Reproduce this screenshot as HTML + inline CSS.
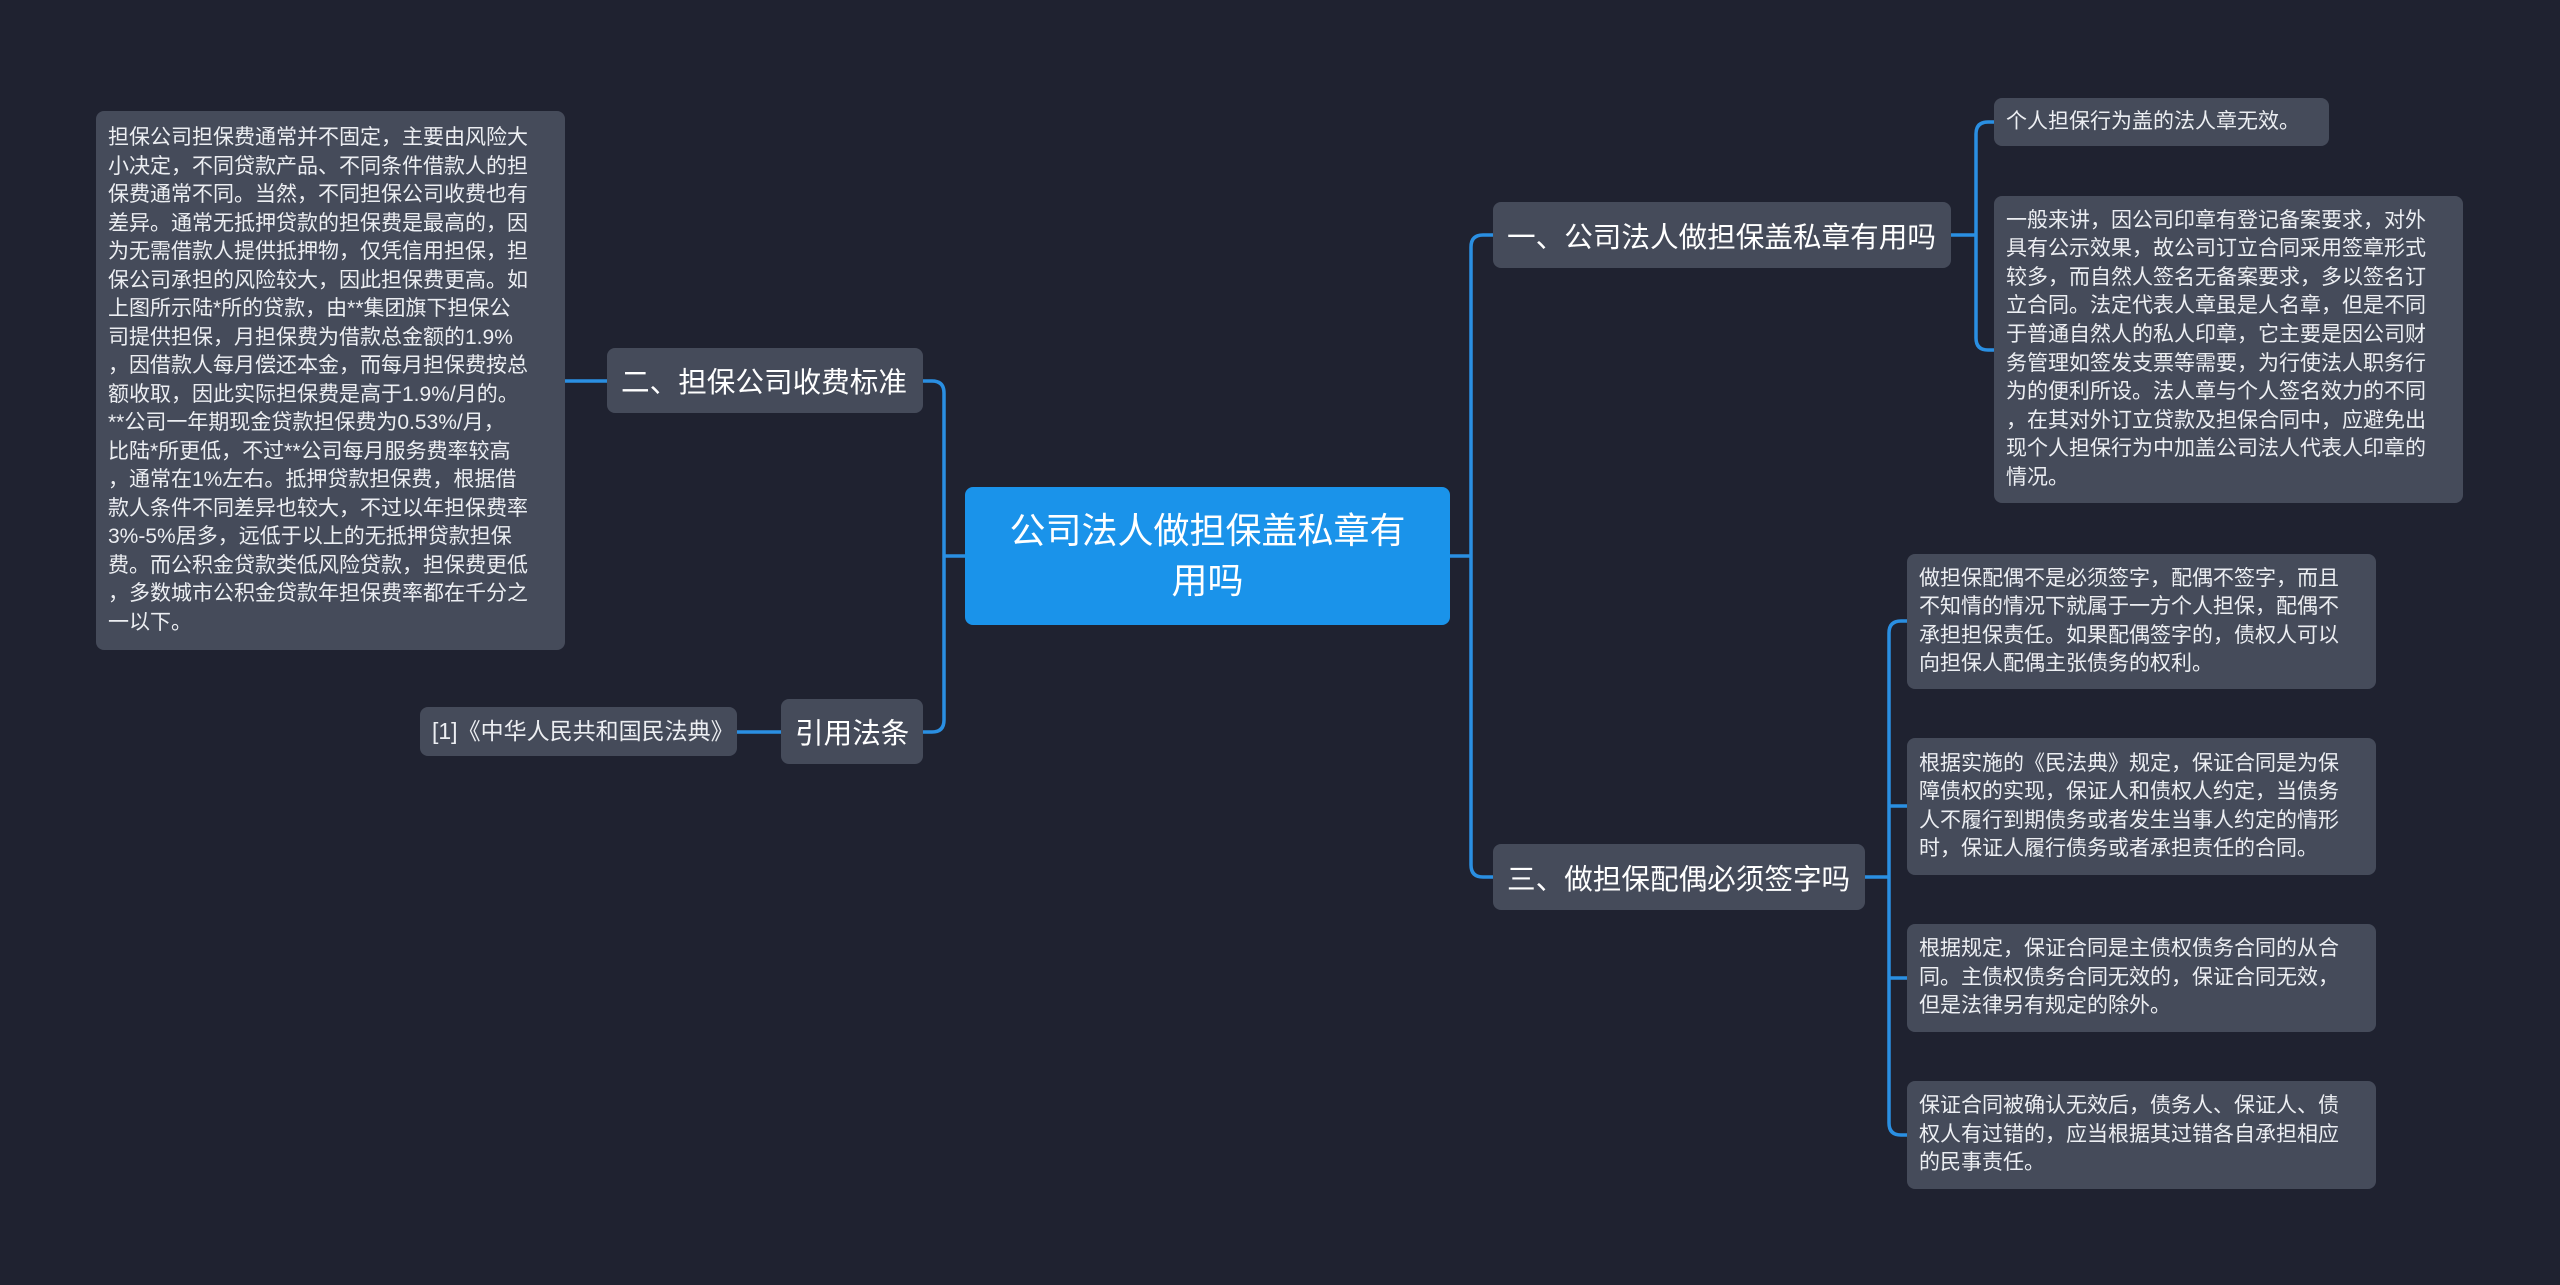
<!DOCTYPE html>
<html><head><meta charset="utf-8"><style>
html,body{margin:0;padding:0;}
body{width:2560px;height:1285px;background:#1f2230;position:relative;overflow:hidden;font-family:"Liberation Sans","Noto Sans CJK SC",sans-serif;}
.n{position:absolute;background:#454b5a;border-radius:8px;color:#fff;box-sizing:border-box;display:flex;align-items:center;}
.t{color:#eceef2;font-size:21px;line-height:28.5px;padding:0 12px;white-space:pre;}
.h{font-size:28.6px;padding:0 14px;white-space:nowrap;}
svg{position:absolute;left:0;top:0;}
</style></head><body>
<svg width="2560" height="1285" fill="none" stroke="#2a8fe2" stroke-width="3.5">
<path d="M965 556 H944"/>
<path d="M923 381 H932 Q944 381 944 393 V720 Q944 732 932 732 H923"/>
<path d="M565 381 H607"/>
<path d="M737 732 H781"/>
<path d="M1450 556 H1471"/>
<path d="M1493 235 H1483 Q1471 235 1471 247 V865 Q1471 877 1483 877 H1493"/>
<path d="M1951 235 H1976"/>
<path d="M1994 122 H1988 Q1976 122 1976 134 V338 Q1976 350 1988 350 H1994"/>
<path d="M1865 877 H1889"/>
<path d="M1907 621 H1901 Q1889 621 1889 633 V1123 Q1889 1135 1901 1135 H1907"/>
<path d="M1889 806 H1907"/>
<path d="M1889 978 H1907"/>
</svg>

<div class="n" style="left:965px;top:487px;width:485px;height:138px;background:#1a93ea;justify-content:center;text-align:center;font-size:36px;line-height:50px;">公司法人做担保盖私章有<br>用吗</div>

<div class="n h" style="left:607px;top:348px;width:316px;height:65px;">二、担保公司收费标准</div>
<div class="n h" style="left:781px;top:699px;width:142px;height:65px;">引用法条</div>
<div class="n t" style="left:420px;top:707px;width:317px;height:49px;font-size:23px;">[1]《中华人民共和国民法典》</div>

<div class="n t" style="left:96px;top:111px;width:469px;height:539px;">担保公司担保费通常并不固定，主要由风险大
小决定，不同贷款产品、不同条件借款人的担
保费通常不同。当然，不同担保公司收费也有
差异。通常无抵押贷款的担保费是最高的，因
为无需借款人提供抵押物，仅凭信用担保，担
保公司承担的风险较大，因此担保费更高。如
上图所示陆*所的贷款，由**集团旗下担保公
司提供担保，月担保费为借款总金额的1.9%
，因借款人每月偿还本金，而每月担保费按总
额收取，因此实际担保费是高于1.9%/月的。
**公司一年期现金贷款担保费为0.53%/月，
比陆*所更低，不过**公司每月服务费率较高
，通常在1%左右。抵押贷款担保费，根据借
款人条件不同差异也较大，不过以年担保费率
3%-5%居多，远低于以上的无抵押贷款担保
费。而公积金贷款类低风险贷款，担保费更低
，多数城市公积金贷款年担保费率都在千分之
一以下。</div>

<div class="n h" style="left:1493px;top:202px;width:458px;height:66px;">一、公司法人做担保盖私章有用吗</div>
<div class="n t" style="left:1994px;top:98px;width:335px;height:48px;">个人担保行为盖的法人章无效。</div>
<div class="n t" style="left:1994px;top:196px;width:469px;height:307px;line-height:28.6px;">一般来讲，因公司印章有登记备案要求，对外
具有公示效果，故公司订立合同采用签章形式
较多，而自然人签名无备案要求，多以签名订
立合同。法定代表人章虽是人名章，但是不同
于普通自然人的私人印章，它主要是因公司财
务管理如签发支票等需要，为行使法人职务行
为的便利所设。法人章与个人签名效力的不同
，在其对外订立贷款及担保合同中，应避免出
现个人担保行为中加盖公司法人代表人印章的
情况。</div>

<div class="n h" style="left:1493px;top:844px;width:372px;height:66px;">三、做担保配偶必须签字吗</div>
<div class="n t" style="left:1907px;top:554px;width:469px;height:135px;">做担保配偶不是必须签字，配偶不签字，而且
不知情的情况下就属于一方个人担保，配偶不
承担担保责任。如果配偶签字的，债权人可以
向担保人配偶主张债务的权利。</div>
<div class="n t" style="left:1907px;top:738px;width:469px;height:137px;">根据实施的《民法典》规定，保证合同是为保
障债权的实现，保证人和债权人约定，当债务
人不履行到期债务或者发生当事人约定的情形
时，保证人履行债务或者承担责任的合同。</div>
<div class="n t" style="left:1907px;top:924px;width:469px;height:108px;">根据规定，保证合同是主债权债务合同的从合
同。主债权债务合同无效的，保证合同无效，
但是法律另有规定的除外。</div>
<div class="n t" style="left:1907px;top:1081px;width:469px;height:108px;">保证合同被确认无效后，债务人、保证人、债
权人有过错的，应当根据其过错各自承担相应
的民事责任。</div>
</body></html>
